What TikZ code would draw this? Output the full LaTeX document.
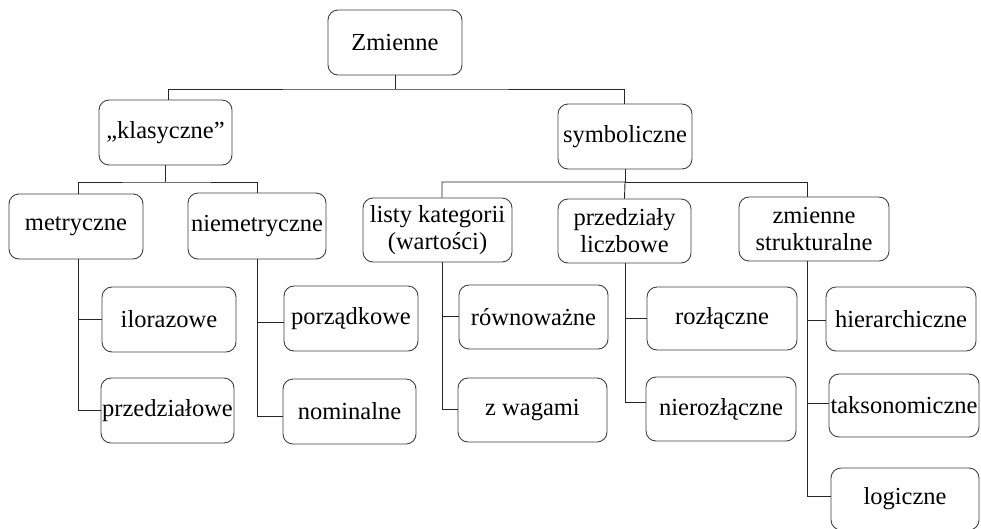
\documentclass[tikz,border=0pt]{standalone}
\usepackage{fontspec}
\setmainfont{Liberation Serif}
\begin{document}
\begin{tikzpicture}[x=1pt,y=-1pt,
  bx/.style={draw=black!75, line width=0.9pt, rounded corners=10pt, inner sep=0pt,
    minimum width=#1, align=center, font=\fontsize{24.5}{27}\selectfont, text=black},
  bx/.default=134pt,
  ln/.style={draw=black!85, line width=0.9pt}]
\clip (0,0) rectangle (981,528);
\fill[white] (0,0) rectangle (981,528);
% level 0
\node[bx=134pt, minimum height=65pt] (zm) at (395,42.5) {Zmienne};
% level 1
\node[bx=133pt, minimum height=65pt] (kl) at (165.5,132.5) {,,klasyczne''};
\node[bx=134pt, minimum height=65pt] (sy) at (625,136.5) {symboliczne};
% level 2
\node[bx=134pt, minimum height=65pt] (me) at (76,226.5) {metryczne};
\node[bx=138pt, minimum height=66pt] (ni) at (257,226) {niemetryczne};
\node[bx=149pt, minimum height=64pt] (li) at (437.5,230) {listy kategorii\\(wartości)};
\node[bx=133pt, minimum height=64pt] (pl) at (624.5,231) {przedziały\\liczbowe};
\node[bx=150pt, minimum height=64pt] (zs) at (814,229) {zmienne\\strukturalne};
% level 3
\node[bx=134pt, minimum height=65pt] (il) at (169,319.5) {ilorazowe};
\node[bx=133pt, minimum height=65pt] (pz) at (167.5,410.5) {przedziałowe};
\node[bx=134pt, minimum height=65pt] (po) at (351,318.5) {porządkowe};
\node[bx=133pt, minimum height=65pt] (no) at (349.5,411.5) {nominalne};
\node[bx=149pt, minimum height=64pt] (ro) at (533.5,317) {równoważne};
\node[bx=149pt, minimum height=64pt] (zw) at (532.5,410) {z wagami};
\node[bx=150pt, minimum height=63pt] (rz) at (722,318.5) {rozłączne};
\node[bx=150pt, minimum height=64pt] (nr) at (721,409) {nierozłączne};
\node[bx=150pt, minimum height=64pt] (hi) at (901,319) {hierarchiczne};
\node[bx=150pt, minimum height=63pt] (ta) at (904,405.5) {taksonomiczne};
\node[bx=148pt, minimum height=62pt] (lo) at (905,499) {logiczne};
% junctions
\coordinate (j1) at (395,89);
\coordinate (j2) at (165.5,182);
\coordinate (j3) at (625,182);
% connectors
\draw[ln] (zm.south) -- (j1);
\draw[ln] ([xshift=2.5pt]kl.north) |- (j1) -| ([xshift=-1pt]sy.north);
\draw[ln] (kl.south) -- (j2);
\draw[ln] ([xshift=2pt]me.north) |- (j2) -| (ni.north);
\draw[ln] (sy.south) -- (j3);
\draw[ln] ([xshift=4.5pt]li.north) |- (j3) -- (pl.north);
\draw[ln] (j3) -| ([xshift=-7pt]zs.north);
% trunks
\draw[ln] ([xshift=2pt]me.south) |- (il.west);
\draw[ln] ([xshift=2pt]me.south) |- (pz.west);
\draw[ln] (ni.south) |- ([yshift=-3.5pt]po.west);
\draw[ln] (ni.south) |- ([yshift=-4.5pt]no.west);
\draw[ln] ([xshift=4.5pt]li.south) |- ([yshift=1pt]ro.west);
\draw[ln] ([xshift=4.5pt]li.south) |- ([yshift=1pt]zw.west);
\draw[ln] ([xshift=0.5pt]pl.south) |- ([yshift=0.5pt]rz.west);
\draw[ln] ([xshift=0.5pt]pl.south) |- ([yshift=7pt]nr.west);
\draw[ln] ([xshift=-7pt]zs.south) |- ([yshift=-1pt]hi.west);
\draw[ln] ([xshift=-7pt]zs.south) |- ([yshift=2.5pt]ta.west);
\draw[ln] ([xshift=-7pt]zs.south) |- ([yshift=3pt]lo.west);
\end{tikzpicture}
\end{document}
